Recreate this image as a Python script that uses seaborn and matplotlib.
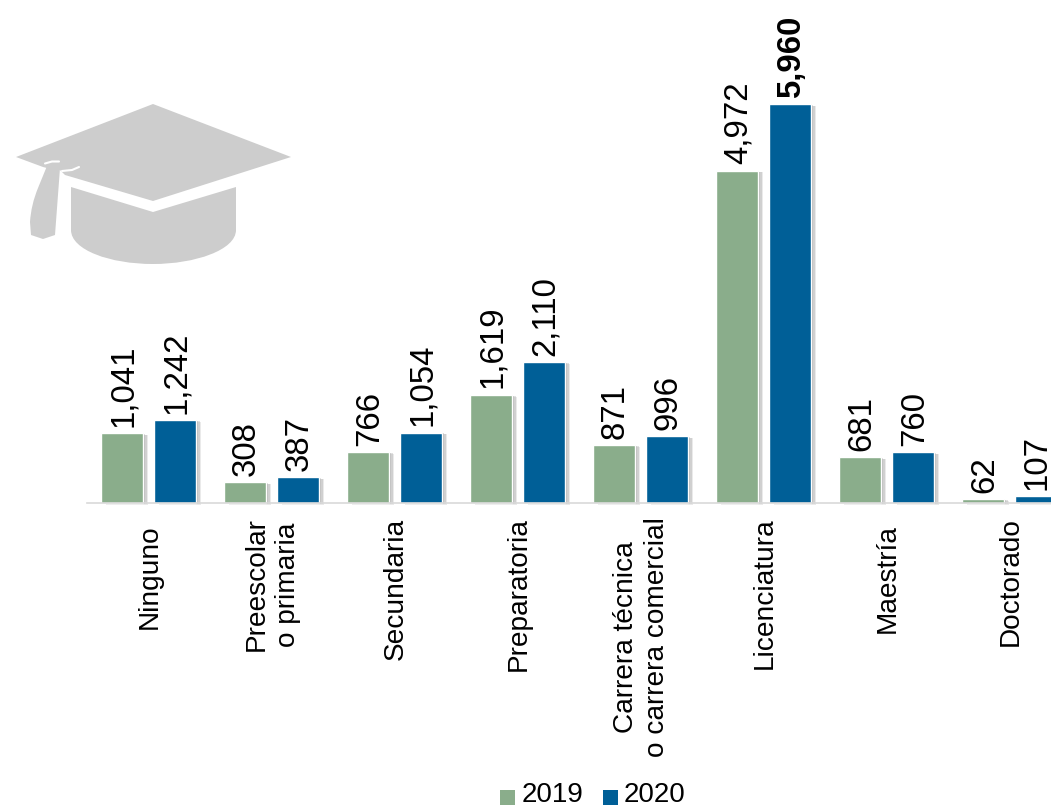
import numpy as np
import pandas as pd
import matplotlib
matplotlib.use("Agg")
import matplotlib.pyplot as plt
import matplotlib.patheffects as pe
import matplotlib.transforms as mtrans
from matplotlib.patches import Polygon, PathPatch, Rectangle
from matplotlib.path import Path
import seaborn as sns

categories = ["Ninguno", "Preescolar\no primaria", "Secundaria", "Preparatoria",
              "Carrera técnica\no carrera comercial", "Licenciatura", "Maestría", "Doctorado"]
values_2019 = [1041, 308, 766, 1619, 871, 4972, 681, 62]
values_2020 = [1242, 387, 1054, 2110, 996, 5960, 760, 107]
years = ["2019", "2020"]
colors = ["#8AAD8B", "#005F97"]

sns.set_theme(style="white")
plt.rcParams["font.family"] = ["Liberation Sans", "DejaVu Sans"]

W, H = 1051, 808
fig = plt.figure(figsize=(W / 100, H / 100), dpi=100)
ax = fig.add_axes([87 / W, 1 - 503 / H, 984 / W, 450 / H])

df = pd.DataFrame({
    "cat": categories * 2,
    "year": [years[0]] * 8 + [years[1]] * 8,
    "value": values_2019 + values_2020,
})
sns.barplot(data=df, x="cat", y="value", hue="year", palette=colors, width=0.862, gap=0.208,
            saturation=1, legend=False, ax=ax, clip_on=False)
ax.set_xlim(-0.5, 7.5)
ax.set_ylim(0, 450 / (398.5 / 5960))

# soft shadow built from stacked translucent copies
shadow = [pe.SimplePatchShadow(offset=(o, -o * 0.4), alpha=a, shadow_rgbFace="#5A5A5A", rho=1)
          for o, a in [(3.4, 0.12), (2.6, 0.18), (1.7, 0.22), (0.9, 0.25)]] + [pe.Normal()]
for container, vals, yr in zip(ax.containers, [values_2019, values_2020], years):
    for bar, v in zip(container, vals):
        bar.set_path_effects(shadow)
        bold = yr == "2020" and v == max(vals)
        ax.annotate(f"{v:,}", (bar.get_x() + bar.get_width() / 2 + 0.012, v), xytext=(0, 4.5),
                    textcoords="offset points", rotation=90, ha="center", va="bottom",
                    fontsize=23.8, color="black", fontweight="bold" if bold else "normal",
                    annotation_clip=False)

for s in ["top", "right", "left"]:
    ax.spines[s].set_visible(False)
ax.spines["bottom"].set_color("#D9D9D9")
ax.spines["bottom"].set_linewidth(1.2)
ax.set_yticks([])
ax.set_xlabel("")
ax.set_ylabel("")
ax.set_xticks(range(8))
ax.set_xticklabels(categories, rotation=90, fontsize=20.2, color="black", linespacing=1.28, ha="center", va="top")
ax.tick_params(axis="x", length=0, pad=10.5)
for lab, txt in zip(ax.get_xticklabels(), categories):
    dy = -7 / 100 if txt in ("Ninguno", "Maestría") else 0
    lab.set_transform(lab.get_transform() + mtrans.ScaledTranslation(1 / 100, dy, fig.dpi_scale_trans))

# legend
for col, lab, xs, xt in zip(colors, years, [500, 603], [522, 624]):
    fig.add_artist(Rectangle((xs / W, 1 - 805 / H), 15 / W, 15 / H, transform=fig.transFigure,
                             facecolor=col, edgecolor="none"))
    fig.text(xt / W, 1 - 807.5 / H, lab, fontsize=20, color="black", ha="left", va="bottom")

# decorative graduation cap, drawn in pixel space
hat = fig.add_axes([0, 0, 1, 1], facecolor="none")
hat.set_xlim(0, W)
hat.set_ylim(H, 0)
hat.axis("off")
grey = "#CDCDCD"
hat.add_patch(Polygon([(153, 104), (291, 157), (153, 201), (65, 175), (60, 170), (47, 168), (43, 167),
                       (16, 157)], closed=True, fc=grey, ec="none"))
hat.plot([45, 52, 59], [163.5, 161.5, 161.5], color="white", lw=1.5, solid_capstyle="round")
hat.plot([62, 72, 79], [171, 170, 167], color="white", lw=1.5, solid_capstyle="round")
crown = Path([(71, 187), (153, 212), (236, 187), (236, 230), (236, 250), (195, 264), (153, 264),
              (110, 264), (71, 250), (71, 230), (71, 187)],
             [Path.MOVETO, Path.LINETO, Path.LINETO, Path.LINETO, Path.CURVE4, Path.CURVE4, Path.CURVE4,
              Path.CURVE4, Path.CURVE4, Path.CURVE4, Path.LINETO])
hat.add_patch(PathPatch(crown, fc=grey, ec="none"))
tassel = Path([(47, 166), (60, 168), (55, 235), (43, 239), (31, 235), (30, 222), (31, 205), (38, 188), (47, 166)],
              [Path.MOVETO, Path.LINETO, Path.LINETO, Path.LINETO, Path.LINETO, Path.LINETO,
               Path.CURVE3, Path.CURVE3, Path.LINETO])
hat.add_patch(PathPatch(tassel, fc=grey, ec="none"))

fig.savefig("out.png", dpi=100, facecolor="white")
